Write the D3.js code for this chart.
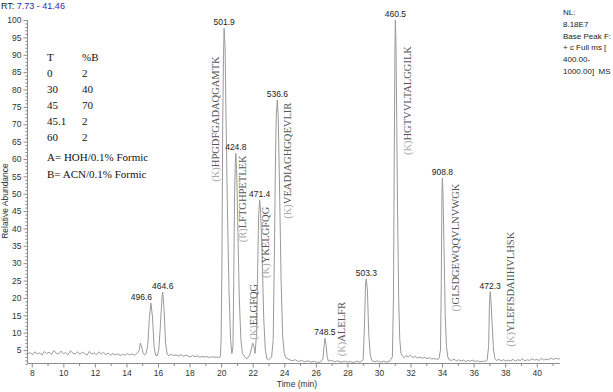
<!DOCTYPE html>
<html><head><meta charset="utf-8">
<script src="https://cdn.jsdelivr.net/npm/d3@7"></script>
<style>html,body{margin:0;padding:0;background:#fff;}svg{display:block;}</style>
</head><body>
<script>
// ---- data ----
const rtRange = [7.73, 41.46];
const xTicks = [8,10,12,14,16,18,20,22,24,26,28,30,32,34,36,38,40];
const yTicks = [5,10,15,20,25,30,35,40,45,50,55,60,65,70,75,80,85,90,95,100];
// chromatogram trace [time(min), relative abundance %]
const trace = [
[7.73,3.8],[7.9,4.3],[8.05,3.6],[8.2,4.5],[8.35,3.9],[8.5,4.2],[8.65,3.5],[8.8,4.6],[8.95,4.0],[9.1,4.4],
[9.25,3.7],[9.4,4.9],[9.55,4.1],[9.7,3.8],[9.85,4.7],[10.0,3.9],[10.15,4.3],[10.3,3.6],[10.45,4.8],[10.6,4.1],
[10.75,3.9],[10.9,4.5],[11.05,3.7],[11.2,4.4],[11.35,4.0],[11.5,3.5],[11.65,4.6],[11.8,3.8],[11.95,4.2],[12.1,3.6],
[12.25,4.5],[12.4,3.9],[12.55,4.3],[12.7,3.7],[12.85,4.1],[13.0,3.5],[13.15,4.0],[13.3,3.6],[13.45,3.9],[13.6,3.4],
[13.75,3.8],[13.9,3.5],[14.05,4.0],[14.2,3.6],[14.35,3.9],[14.5,3.5],[14.65,3.9],[14.8,4.8],[14.88,7.0],[14.95,6.2],
[15.05,4.2],[15.15,3.6],[15.25,4.0],[15.35,6.5],[15.45,14.0],[15.55,18.5],[15.65,14.5],[15.75,6.0],[15.85,3.5],[15.95,3.3],
[16.05,5.0],[16.15,12.0],[16.25,20.0],[16.3,21.7],[16.38,17.0],[16.48,7.0],[16.58,3.8],[16.7,3.4],[16.85,3.8],[17.0,3.4],
[17.15,3.6],[17.3,3.3],[17.45,3.7],[17.6,3.2],[17.75,3.5],[17.9,3.3],[18.05,3.0],[18.2,3.4],[18.35,3.1],[18.5,3.3],
[18.65,2.9],[18.8,3.2],[18.95,3.0],[19.1,3.1],[19.25,2.8],[19.4,3.1],[19.55,2.9],[19.7,3.0],[19.85,2.8],[19.95,3.1],
[20.0,8.0],[20.05,30],[20.1,70],[20.15,90],[20.19,97.6],[20.25,92],[20.3,75],[20.4,45],[20.5,22],[20.6,8],
[20.68,4],[20.75,6],[20.8,25],[20.85,50],[20.9,59],[20.93,61.6],[20.98,57],[21.05,42],[21.15,20],[21.25,8],
[21.35,4],[21.5,3],[21.65,2.5],[21.8,3.5],[21.9,5],[22.0,7],[22.08,6],[22.15,4],[22.25,10],[22.32,30],
[22.38,44],[22.44,48.2],[22.5,45],[22.6,32],[22.7,14],[22.8,5],[22.9,2.5],[23.0,2.2],[23.1,2.5],[23.2,3],
[23.3,8],[23.38,35],[23.45,62],[23.5,73],[23.56,77],[23.62,72],[23.7,52],[23.8,25],[23.9,9],[24.0,4],
[24.1,2.8],[24.3,2.3],[24.5,1.9],[24.7,2.2],[24.9,1.7],[25.1,2.0],[25.3,1.6],[25.5,1.9],[25.7,1.5],[25.9,1.8],
[26.1,1.4],[26.3,1.6],[26.45,2.5],[26.52,6],[26.58,8.4],[26.65,6.5],[26.72,3],[26.8,1.8],[27.0,2.0],[27.2,1.6],
[27.4,1.9],[27.6,1.5],[27.8,1.8],[28.0,1.5],[28.2,1.7],[28.4,1.4],[28.6,1.8],[28.8,1.5],[29.0,2.2],[29.08,12],
[29.15,24],[29.2,25.5],[29.27,22],[29.35,10],[29.45,3.5],[29.55,2.0],[29.7,1.6],[29.9,1.9],[30.1,1.5],[30.3,1.8],
[30.5,1.5],[30.7,1.9],[30.85,3],[30.92,20],[30.97,60],[31.01,90],[31.04,100],[31.08,93],[31.13,70],[31.18,45],
[31.25,20],[31.32,8],[31.4,4],[31.5,3.2],[31.6,2.8],[31.7,3.4],[31.85,3.0],[32.0,3.5],[32.15,2.8],[32.3,3.2],
[32.45,2.7],[32.6,3.0],[32.75,2.6],[32.9,2.9],[33.05,2.5],[33.2,2.8],[33.35,2.4],[33.5,2.6],[33.65,2.3],[33.8,2.5],
[33.9,5],[33.95,25],[33.99,50],[34.02,54.5],[34.06,50],[34.12,35],[34.2,15],[34.28,6],[34.36,3],[34.45,2.2],
[34.6,2.0],[34.75,2.4],[34.9,1.9],[35.05,2.2],[35.2,1.8],[35.35,2.1],[35.5,1.7],[35.65,2.0],[35.8,1.8],[35.95,2.1],
[36.1,1.7],[36.25,1.9],[36.4,1.6],[36.55,1.8],[36.7,1.7],[36.85,2.0],[36.95,6],[37.0,18],[37.05,21.8],[37.1,19],
[37.18,12],[37.26,5],[37.35,2.5],[37.45,2.0],[37.6,2.3],[37.75,1.9],[37.9,2.2],[38.05,1.8],[38.2,2.1],[38.35,1.9],
[38.5,2.3],[38.65,1.8],[38.8,2.2],[38.95,2.0],[39.1,2.4],[39.25,1.9],[39.4,2.2],[39.55,2.0],[39.7,2.5],[39.85,2.1],
[40.0,2.3],[40.15,2.0],[40.3,2.6],[40.45,2.1],[40.6,2.4],[40.75,2.2],[40.9,2.7],[41.05,2.3],[41.2,2.6],[41.35,2.4],[41.46,2.5]
];
// m/z labels [label time, apex abundance, text]
const mzLabels = [
[14.95,18.5,"496.6"],[16.3,21.7,"464.6"],[20.19,97.6,"501.9"],[20.93,61.6,"424.8"],[22.44,48.2,"471.4"],
[23.56,77,"536.6"],[26.58,8.4,"748.5"],[29.2,25.5,"503.3"],[31.04,100,"460.5"],[34.02,54.5,"908.8"],[37.05,21.8,"472.3"]
];
// peptide annotations [time, abundance (label centre), cleavage prefix, sequence]
const peptides = [
[19.6,71.5,"(K)","HPGDFGADAQGAMTK"],
[21.33,48.5,"(R)","LFTGHPETLEK"],
[22.0,16.0,"(K)","ELGFQG"],
[22.8,36.0,"(K)","YKELGFQG"],
[24.19,59.5,"(K)","VEADIAGHGQEVLIR"],
[27.6,11.0,"(K)","ALELFR"],
[31.75,76.8,"(K)","HGTVVLTALGGILK"],
[34.85,34.5,"()","GLSDGEWQQVLNVWGK"],
[38.31,22.5,"(K)","YLEFISDAIIHVLHSK"]
];
const gradientHeader = ["T","%B"];
const gradientT = ["0","30","45","45.1","60"];
const gradientB = ["2","40","70","2","2"];
const solvents = ["A= HOH/0.1% Formic","B= ACN/0.1% Formic"];
const infoLines = ["NL:","8.18E7","Base Peak F:","+ c Full ms [","400.00-","1000.00]  MS"];

// ---- drawing ----
const W = 613, H = 392;
const svg = d3.select("body").append("svg").attr("width", W).attr("height", H);
const x = d3.scaleLinear().domain(rtRange).range([27.5, 559.8]);
const y = d3.scaleLinear().domain([0, 100]).range([367.4, 20]);
const axisY = 363.5, axisX = 27.5;
const axisCol = "#8c8c8c";
const sans = "Arial, 'Liberation Sans', sans-serif";
const serif = "'Times New Roman', 'Liberation Serif', serif";

// RT header
const rt = svg.append("text").attr("x", 1).attr("y", 9).attr("font-family", sans).attr("font-size", 9);
rt.append("tspan").attr("fill", "#222").text("RT: ");
rt.append("tspan").attr("fill", "#2b2bb0").text(rtRange[0].toFixed(2) + " - " + rtRange[1].toFixed(2));

// y axis
const yAxis = d3.axisLeft(y).tickValues(yTicks).tickSize(4).tickPadding(2);
svg.append("g").attr("transform", `translate(${axisX},0)`).call(yAxis);
const yMinor = d3.axisLeft(y).tickValues(d3.range(1, 101).filter(v => v % 5 !== 0)).tickSize(2.2).tickFormat("");
svg.append("g").attr("transform", `translate(${axisX},0)`).call(yMinor);
svg.selectAll(".domain").remove();
svg.append("line").attr("x1", axisX).attr("x2", axisX).attr("y1", y(100)).attr("y2", axisY).attr("stroke", axisCol);

// x axis
const xAxis = d3.axisBottom(x).tickValues(xTicks).tickSize(4).tickPadding(2).tickFormat(d3.format("d"));
svg.append("g").attr("transform", `translate(0,${axisY})`).call(xAxis);
const xMinor = d3.axisBottom(x).tickValues(d3.range(8, 41.5, 1).filter(v => v % 2 !== 0)).tickSize(2.5).tickFormat("");
svg.append("g").attr("transform", `translate(0,${axisY})`).call(xMinor);
svg.selectAll(".domain").remove();
svg.append("line").attr("x1", axisX).attr("x2", x(rtRange[1])).attr("y1", axisY).attr("y2", axisY).attr("stroke", axisCol);

svg.selectAll(".tick line").attr("stroke", axisCol);
svg.selectAll(".tick text").attr("font-family", sans).attr("font-size", 8.5).attr("fill", "#333");

// axis titles
svg.append("text").attr("transform", `translate(8,201) rotate(-90)`)
  .attr("text-anchor", "middle").attr("font-family", sans).attr("font-size", 8.5).attr("fill", "#333")
  .text("Relative Abundance");
svg.append("text").attr("x", 297).attr("y", 387).attr("text-anchor", "middle")
  .attr("font-family", sans).attr("font-size", 8.5).attr("fill", "#333").text("Time (min)");

// trace
const line = d3.line().x(d => x(d[0])).y(d => y(d[1]));
svg.append("path").datum(trace).attr("d", line).attr("fill", "none")
  .attr("stroke", "#9a9a9a").attr("stroke-width", 1).attr("stroke-linejoin", "round");

// m/z labels
svg.selectAll(".mz").data(mzLabels).enter().append("text")
  .attr("x", d => x(d[0])).attr("y", d => y(d[1]) - 3)
  .attr("text-anchor", "middle").attr("font-family", sans).attr("font-size", 8.5).attr("fill", "#222")
  .text(d => d[2]);

// peptide labels
const pep = svg.selectAll(".pep").data(peptides).enter().append("text")
  .attr("transform", d => `translate(${x(d[0]) + 4},${y(d[1])}) rotate(-90)`)
  .attr("text-anchor", "middle").attr("font-family", serif).attr("font-size", 10.5);
pep.append("tspan").attr("fill", "#aaaaaa").text(d => d[2]);
pep.append("tspan").attr("fill", "#555").text(d => d[3]);

// gradient table
const tbl = svg.append("g").attr("font-family", serif).attr("font-size", 11).attr("fill", "#111");
tbl.append("text").attr("x", 47).attr("y", 61).text(gradientHeader[0]);
tbl.append("text").attr("x", 82).attr("y", 61).text(gradientHeader[1]);
gradientT.forEach((t, i) => {
  tbl.append("text").attr("x", 47).attr("y", 77 + i * 16).text(t);
  tbl.append("text").attr("x", 82).attr("y", 77 + i * 16).text(gradientB[i]);
});
solvents.forEach((s, i) => {
  tbl.append("text").attr("x", 47).attr("y", 161 + i * 16.5).text(s);
});

// info text (top right)
infoLines.forEach((s, i) => {
  svg.append("text").attr("x", 563).attr("y", 15 + i * 11.8).attr("font-family", sans)
    .attr("font-size", 8).attr("fill", "#222").attr("xml:space", "preserve").text(s);
});
</script>
</body></html>
